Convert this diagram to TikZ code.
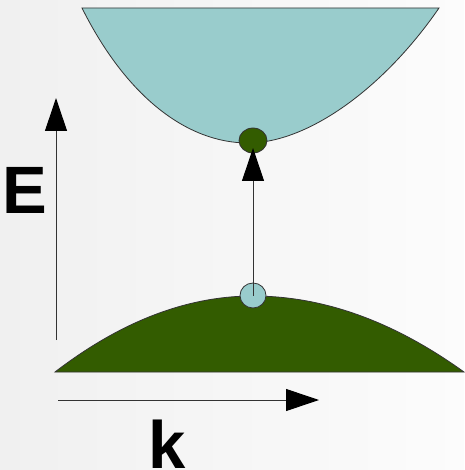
\documentclass[tikz,border=0pt]{standalone}
\usepackage{fontspec}
\setmainfont{Liberation Sans}
\usetikzlibrary{arrows.meta,shapes.geometric}
\definecolor{cband}{HTML}{99CCCC}
\definecolor{vband}{HTML}{335C00}
\definecolor{bgA}{HTML}{F0F0F0}
\definecolor{bgB}{HTML}{FCFCFC}
\tikzset{
  outline/.style={draw=black!80, line width=0.8pt},
  axis/.style={draw=black!80, line width=1pt, -{Triangle[length=33pt,width=22pt,color=black]}},
  dot/.style={ellipse, outline, inner sep=0pt},
  lbl/.style={font=\fontsize{67}{67}\selectfont\bfseries, inner sep=0pt}
}
\begin{document}
\begin{tikzpicture}[x=1pt,y=-1pt]
\useasboundingbox (0,0) rectangle (464,470);
\shade[shading angle=225, left color=bgA, right color=bgB] (0,0) rectangle (464,470);
% conduction band
\filldraw[fill=cband, outline] (82,8) -- (439,8)
  .. controls (384,88) and (308,143) .. (248,143)
  .. controls (188,143) and (127,98) .. (82,8) -- cycle;
% valence band
\filldraw[fill=vband, outline] (55,372)
  .. controls (121,321.33) and (187,296) .. (253,296)
  .. controls (323.33,296) and (393.67,321.33) .. (464,372) -- cycle;
% dots
\node[dot, fill=vband, minimum width=28pt, minimum height=25pt] (el) at (253,140.5) {};
\node[dot, fill=cband, minimum width=26pt, minimum height=25pt] (ho) at (253,295.5) {};
% transition arrow
\draw[axis, shorten >=7.5pt] (ho.center) -- (el.center);
% axes
\coordinate (Eo) at (56,340);
\coordinate (Et) at (56,98);
\coordinate (ko) at (58,400);
\coordinate (kt) at (319,400);
\draw[axis] (Eo) -- (Et);
\draw[axis] (ko) -- (kt);
\node[lbl, anchor=base west] (E) at (2,213) {E};
\node[lbl, anchor=base west] (k) at (148.5,468) {k};
\end{tikzpicture}
\end{document}
